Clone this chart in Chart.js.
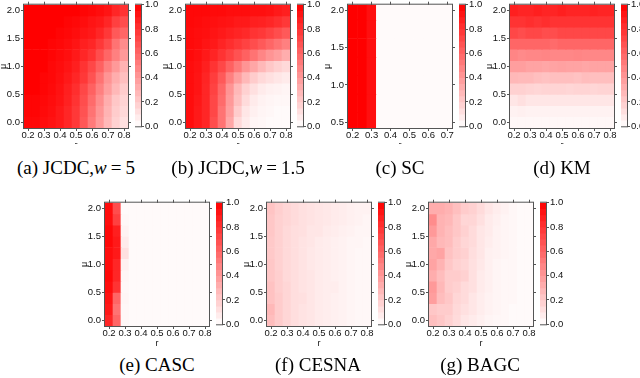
<!DOCTYPE html>
<html lang="en">
<head>
<meta charset="UTF-8">
<title>Detection rate heatmaps</title>
<script src="https://cdn.jsdelivr.net/npm/chart.js"></script>
<style>
  body { margin: 0; width: 640px; height: 378px; background: #fff; position: relative; overflow: hidden; }
  .panel { position: absolute; overflow: hidden; }
  .cap { position: absolute; font-family: "Liberation Serif", serif; font-size: 19px; color: #000;
         white-space: nowrap; transform: translateX(-50%); line-height: 20px; }
  .cap .eq { margin: 0 4px; }
</style>
</head>
<body>
<script>
// grid of the experiments
const rVals = [0.2, 0.25, 0.3, 0.35, 0.4, 0.45, 0.5, 0.55, 0.6, 0.65, 0.7, 0.75, 0.8];
const muVals = [0.0, 0.2, 0.4, 0.6, 0.8, 1.0, 1.2, 1.4, 1.6, 1.8, 2.0];
const rValsSC = [0.2, 0.25, 0.3, 0.35, 0.4, 0.45, 0.5, 0.55, 0.6, 0.65, 0.7];
const muValsSC = [0.5, 0.75, 1.0, 1.25, 1.5, 1.75, 2.0];
const cbLevels = [0, 0.05, 0.1, 0.15, 0.2, 0.25, 0.3, 0.35, 0.4, 0.45, 0.5,
                  0.55, 0.6, 0.65, 0.7, 0.75, 0.8, 0.85, 0.9, 0.95, 1.0];

// rows go from mu = 0 (first) up to mu = 2 (last)
const jcdc5 = [
  [.97,.97,.95,.93,.90,.85,.78,.66,.52,.40,.28,.18,.12],
  [.98,.98,.96,.94,.90,.85,.78,.68,.55,.42,.30,.20,.15],
  [.98,.98,.97,.95,.92,.87,.80,.70,.58,.45,.32,.22,.17],
  [1,1,.98,.96,.93,.88,.82,.72,.62,.50,.38,.28,.20],
  [1,1,.98,.97,.94,.90,.85,.78,.68,.55,.42,.32,.25],
  [1,1,1,.97,.95,.92,.88,.80,.72,.62,.50,.40,.30],
  [1,1,1,.98,.96,.94,.90,.85,.80,.70,.60,.50,.40],
  [1,1,1,.98,.97,.95,.92,.88,.85,.78,.70,.55,.45],
  [1,1,1,1,.98,.97,.95,.92,.90,.85,.78,.65,.60],
  [1,1,1,1,1,.98,.97,.95,.92,.90,.85,.75,.70],
  [1,1,1,1,1,1,1,.98,.97,.95,.92,.85,.80]
];
const jcdc15 = [
  [.95,.90,.85,.70,.55,.35,.15,.08,.04,.03,.02,.02,.02],
  [.95,.90,.85,.72,.55,.38,.20,.10,.06,.04,.03,.02,.02],
  [.95,.91,.85,.72,.58,.40,.25,.14,.08,.05,.04,.03,.03],
  [.95,.92,.85,.74,.60,.42,.28,.18,.12,.08,.06,.05,.04],
  [.95,.92,.86,.76,.65,.50,.38,.28,.20,.15,.12,.10,.08],
  [.95,.93,.88,.80,.72,.62,.52,.42,.35,.28,.22,.18,.15],
  [.96,.94,.90,.86,.80,.74,.68,.62,.55,.48,.42,.38,.32],
  [.96,.95,.92,.90,.86,.82,.78,.74,.70,.65,.60,.55,.50],
  [.96,.95,.94,.92,.90,.88,.86,.84,.80,.78,.74,.70,.65],
  [.97,.96,.95,.94,.93,.92,.90,.90,.88,.87,.85,.82,.78],
  [.97,.97,.97,.96,.96,.95,.95,.95,.94,.94,.93,.90,.88]
];
const sc = [
  [1,1,.94,.02,.02,.02,.02,.02,.02,.02,.02],
  [1,1,.94,.02,.02,.02,.02,.02,.02,.02,.02],
  [1,1,.94,.02,.02,.02,.02,.02,.02,.02,.02],
  [1,1,.94,.02,.02,.02,.02,.02,.02,.02,.02],
  [1,1,.94,.02,.02,.02,.02,.02,.02,.02,.02],
  [1,1,.94,.02,.02,.02,.02,.02,.02,.02,.02],
  [1,1,.94,.02,.02,.02,.02,.02,.02,.02,.02]
];
const km = [
  [.03,.03,.03,.03,.03,.03,.03,.03,.03,.03,.03,.03,.03],
  [.05,.06,.05,.05,.05,.05,.05,.05,.05,.05,.05,.05,.05],
  [.10,.12,.10,.10,.10,.10,.10,.10,.10,.10,.10,.10,.10],
  [.18,.18,.17,.16,.17,.17,.17,.16,.17,.17,.16,.17,.17],
  [.28,.27,.27,.25,.24,.25,.25,.25,.24,.26,.25,.25,.25],
  [.38,.38,.36,.36,.35,.36,.37,.36,.36,.35,.36,.36,.36],
  [.48,.46,.47,.47,.48,.47,.47,.47,.48,.47,.47,.47,.47],
  [.60,.60,.60,.60,.60,.58,.60,.60,.60,.60,.60,.60,.60],
  [.72,.70,.72,.72,.70,.70,.72,.72,.72,.72,.72,.72,.72],
  [.80,.80,.82,.80,.82,.80,.80,.80,.80,.80,.80,.80,.80],
  [.88,.86,.86,.88,.86,.86,.88,.86,.86,.86,.87,.86,.86]
];
const casc = [
  [.85,.60,.03,.02,.02,.02,.02,.02,.02,.02,.02,.02,.02],
  [.90,.55,.03,.02,.02,.02,.02,.02,.02,.02,.02,.02,.02],
  [.92,.60,.04,.02,.02,.02,.02,.02,.02,.02,.02,.02,.02],
  [.95,.80,.03,.02,.02,.02,.02,.02,.02,.02,.02,.02,.02],
  [.97,.85,.04,.02,.02,.02,.02,.02,.02,.02,.02,.02,.02],
  [.95,.85,.06,.02,.02,.02,.02,.02,.02,.02,.02,.02,.02],
  [.95,.90,.12,.02,.02,.02,.02,.02,.02,.02,.02,.02,.02],
  [.97,.90,.08,.02,.02,.02,.02,.02,.02,.02,.02,.02,.02],
  [.97,.88,.05,.02,.02,.02,.02,.02,.02,.02,.02,.02,.02],
  [.95,.75,.03,.02,.02,.02,.02,.02,.02,.02,.02,.02,.02],
  [.95,.70,.02,.02,.02,.02,.02,.02,.02,.02,.02,.02,.02]
];
const cesna = [
  [.26,.20,.16,.13,.11,.10,.08,.07,.06,.05,.04,.03,.03],
  [.28,.20,.16,.13,.11,.10,.08,.07,.06,.05,.04,.03,.03],
  [.24,.20,.16,.13,.12,.10,.08,.07,.06,.05,.04,.03,.03],
  [.24,.19,.16,.13,.11,.10,.08,.07,.07,.05,.04,.03,.03],
  [.22,.19,.15,.13,.11,.10,.08,.07,.06,.05,.04,.03,.03],
  [.22,.18,.15,.13,.11,.09,.08,.07,.06,.05,.04,.03,.03],
  [.21,.18,.15,.13,.11,.09,.08,.07,.06,.05,.04,.03,.03],
  [.21,.18,.15,.13,.11,.10,.08,.07,.06,.05,.04,.04,.03],
  [.22,.18,.15,.13,.12,.10,.10,.08,.07,.06,.05,.04,.04],
  [.22,.18,.16,.14,.12,.11,.10,.09,.08,.07,.06,.05,.04],
  [.23,.19,.16,.14,.12,.11,.10,.09,.08,.07,.06,.05,.05]
];
const bagc = [
  [.25,.22,.18,.14,.10,.08,.06,.04,.03,.03,.02,.02,.02],
  [.22,.20,.20,.15,.12,.10,.07,.05,.04,.03,.02,.02,.02],
  [.38,.26,.22,.16,.14,.10,.07,.05,.04,.03,.03,.02,.02],
  [.40,.28,.20,.18,.14,.12,.08,.06,.04,.03,.03,.02,.02],
  [.32,.26,.20,.20,.18,.12,.08,.06,.04,.03,.03,.02,.02],
  [.36,.30,.22,.18,.16,.12,.09,.06,.04,.03,.03,.02,.02],
  [.34,.36,.24,.20,.18,.13,.10,.06,.05,.04,.03,.02,.02],
  [.34,.28,.26,.20,.16,.14,.10,.07,.05,.04,.03,.02,.02],
  [.40,.30,.26,.22,.18,.14,.10,.08,.05,.04,.03,.02,.02],
  [.45,.30,.28,.22,.16,.16,.12,.08,.06,.04,.03,.02,.02],
  [.32,.32,.30,.25,.20,.18,.14,.10,.07,.05,.03,.02,.02]
];

const AXIS = '#555';
const TICK_FONT = { family: 'Liberation Sans', size: 9.5 };
const TITLE_FONT = { family: 'Liberation Sans', size: 9 };
const PW = 104, PH = 125, BOTTOM = 23;

function cellColor(v) {
  const g = Math.round(255 * (1 - v));
  return 'rgb(255,' + g + ',' + g + ')';
}

// thin box around the plot area
const frame = {
  id: 'frame',
  afterDatasetsDraw(chart) {
    const a = chart.chartArea, c = chart.ctx;
    c.save();
    c.strokeStyle = AXIS;
    c.lineWidth = 1;
    c.strokeRect(a.left - 0.5, a.top - 0.5, a.right - a.left + 1, a.bottom - a.top + 1);
    c.restore();
  }
};

function makeCanvas(left, top, w, h, clipH) {
  const wrap = document.createElement('div');
  wrap.className = 'panel';
  wrap.style.left = left + 'px';
  wrap.style.top = top + 'px';
  wrap.style.width = w + 'px';
  wrap.style.height = (clipH || h) + 'px';
  const cv = document.createElement('canvas');
  cv.width = w; cv.height = h;
  cv.style.width = w + 'px'; cv.style.height = h + 'px';
  wrap.appendChild(cv);
  document.body.appendChild(wrap);
  return cv;
}

function xAxis(p, pos, labels) {
  return {
    type: 'linear', position: pos, min: p.xMin, max: p.xMax, offset: false,
    grid: { drawOnChartArea: false, tickLength: 3, color: AXIS, offset: false },
    border: { display: false },
    ticks: { display: labels, stepSize: 0.1, includeBounds: false, autoSkip: false, maxRotation: 0,
             padding: -1, color: '#111', font: TICK_FONT, callback: v => v.toFixed(1) },
    title: { display: labels, text: 'r', padding: 0, color: '#111', font: TITLE_FONT },
    afterFit(s) { s.height = labels ? BOTTOM : 5; }
  };
}

function yAxis(p, pos, labels) {
  return {
    type: 'linear', position: pos, min: p.yMin, max: p.yMax, stacked: false,
    grid: { drawOnChartArea: false, tickLength: 3, color: AXIS },
    border: { display: false },
    ticks: { display: labels, stepSize: 0.5, includeBounds: false, padding: 1,
             color: '#111', font: TICK_FONT, callback: v => v.toFixed(1) },
    title: { display: labels, text: 'μ', padding: 0, color: '#111', font: TITLE_FONT },
    afterFit(s) { s.width = labels ? 26 : 5; }
  };
}

function addHeatmap(p) {
  const cells = [], colors = [];
  p.mu.forEach((mu, i) => p.r.forEach((r, j) => {
    cells.push({ x: r, y: [mu - p.rowH / 2, mu + p.rowH / 2] });
    colors.push(cellColor(p.values[i][j]));
  }));
  const cv = makeCanvas(p.left - 26, p.top - 5, 26 + PW + 5, 5 + PH + BOTTOM, p.clipH);
  new Chart(cv, {
    type: 'bar',
    data: { datasets: [{ data: cells, backgroundColor: colors, borderWidth: 0,
                         barPercentage: 1, categoryPercentage: 1 }] },
    options: {
      responsive: false, animation: false, events: [], devicePixelRatio: 1,
      layout: { padding: 0, autoPadding: false },
      plugins: { legend: { display: false }, tooltip: { enabled: false } },
      scales: { x: xAxis(p, 'bottom', true), x2: xAxis(p, 'top', false),
                y: yAxis(p, 'left', true), y2: yAxis(p, 'right', false) }
    },
    plugins: [frame]
  });

  // colour bar next to the heatmap
  const segs = [], segColors = [];
  for (let i = 0; i < cbLevels.length - 1; i++) {
    segs.push({ x: 'c', y: [cbLevels[i], cbLevels[i + 1]] });
    segColors.push(cellColor((cbLevels[i] + cbLevels[i + 1]) / 2));
  }
  const cb = makeCanvas(p.left + 111, p.top - 5, 6 + 24, PH + 10, p.clipH);
  new Chart(cb, {
    type: 'bar',
    data: { labels: ['c'], datasets: [{ data: segs, backgroundColor: segColors, borderWidth: 0,
                                         barPercentage: 1, categoryPercentage: 1 }] },
    options: {
      responsive: false, animation: false, events: [], devicePixelRatio: 1,
      layout: { padding: { top: 5, bottom: 5, left: 0, right: 0 }, autoPadding: false },
      plugins: { legend: { display: false }, tooltip: { enabled: false } },
      scales: {
        x: { display: false },
        y: { position: 'right', min: 0, max: 1, stacked: false,
             grid: { drawOnChartArea: false, tickLength: 3, color: AXIS },
             border: { display: false },
             ticks: { stepSize: 0.2, padding: 1, color: '#111', font: TICK_FONT, callback: v => v.toFixed(1) },
             afterFit(s) { s.width = 24; } }
      }
    },
    plugins: [frame]
  });

  const cap = document.createElement('div');
  cap.className = 'cap';
  cap.style.left = p.capX + 'px';
  cap.style.top = p.capY + 'px';
  cap.innerHTML = p.caption;
  document.body.appendChild(cap);
}

const full = { r: rVals, mu: muVals, rowH: 0.2, xMin: 0.175, xMax: 0.825, yMin: -0.1, yMax: 2.1 };
const panels = [
  Object.assign({}, full, { values: jcdc5, left: 24, top: 3, clipH: 146, capX: 76, capY: 158,
    caption: '(a) JCDC,<i>w</i><span class="eq">=</span>5' }),
  Object.assign({}, full, { values: jcdc15, left: 186, top: 3, clipH: 146, capX: 238, capY: 158,
    caption: '(b) JCDC,<i>w</i><span class="eq">=</span>1.5' }),
  { values: sc, r: rValsSC, mu: muValsSC, rowH: 0.25, xMin: 0.175, xMax: 0.725, yMin: 0.42, yMax: 2.08,
    left: 348, top: 3, clipH: 146, capX: 400, capY: 158, caption: '(c) SC' },
  Object.assign({}, full, { values: km, left: 510, top: 3, clipH: 146, capX: 562, capY: 158, caption: '(d) KM' }),
  Object.assign({}, full, { values: casc, left: 105, top: 201, capX: 157, capY: 355, caption: '(e) CASC' }),
  Object.assign({}, full, { values: cesna, left: 267, top: 201, capX: 318, capY: 355, caption: '(f) CESNA' }),
  Object.assign({}, full, { values: bagc, left: 429, top: 201, capX: 480, capY: 355, caption: '(g) BAGC' })
];
panels.forEach(addHeatmap);
</script>
</body>
</html>
